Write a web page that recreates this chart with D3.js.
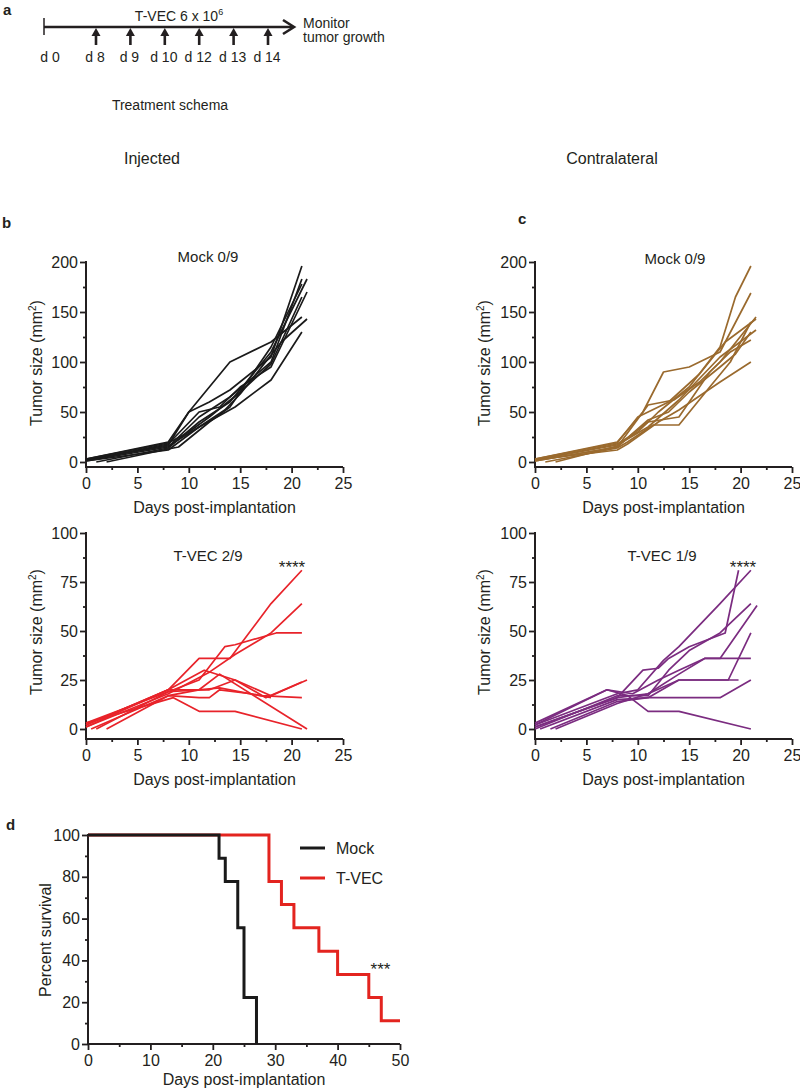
<!DOCTYPE html>
<html><head><meta charset="utf-8">
<script src="https://cdn.jsdelivr.net/npm/d3@7"></script>
<style>
body{margin:0;background:#fff}
svg{display:block}
text{font-family:"Liberation Sans",Arial,sans-serif;fill:#231f20}
</style>
</head><body><svg id="chart" width="800" height="1091"></svg>
<script>
// ---------------- DATA ----------------
const schemaDays = ["d 8","d 9","d 10","d 12","d 13","d 14"];
const growthXTicks = [0,5,10,15,20,25];
const growthXMinor = [2.5,7.5,12.5,17.5,22.5];
const mockYTicks = [0,50,100,150,200];
const mockYMinor = [25,75,125,175];
const tvecYTicks = [0,25,50,75,100];
const tvecYMinor = [12.5,37.5,62.5,87.5];
const survXTicks = [0,10,20,30,40,50];
const survXMinor = [5,15,25,35,45];
const survYTicks = [0,20,40,60,80,100];
const survYMinor = [10,30,50,70,90];

// tumour size per mouse: [day, mm2]
const mockInjected = [
  [[0,2],[8,17],[10,50],[12,60],[14,72],[18,105],[21,196]],
  [[0,3],[8,20],[10,50],[14,100],[18,120],[21,145]],
  [[0,1],[8,15],[11,45],[14,65],[18,100],[21,183]],
  [[1,0],[8,14],[11,40],[14,60],[18,110],[21.5,183]],
  [[0,2],[8,16],[11,35],[14.5,55],[18,82],[21,130]],
  [[0,2],[8,18],[11,50],[13,55],[15,75],[18,95],[21.5,170]],
  [[0,3],[8,19],[10,30],[12,45],[15,70],[18,98],[21,165]],
  [[2,0],[8,13],[9,15],[12,40],[14,55],[18,115],[21,178]],
  [[0,1],[8,12],[11,35],[13.5,52],[15,68],[19,120],[21.5,143]]
];
const mockContra = [
  [[0,2],[8,18],[10,30],[12,50],[15,75],[18,115],[19.5,165],[21,196]],
  [[0,3],[8,20],[10.5,50],[12.5,90],[15,95],[18,110],[21,169]],
  [[0,1],[8,15],[11,57],[13.5,62],[16,80],[18,100],[21.5,145]],
  [[1,0],[8,14],[9,20],[11.5,37],[14,37],[17,75],[19,100],[21,140]],
  [[0,2],[8,12],[9,18],[12,40],[14,52],[18,80],[21,100]],
  [[0,2],[8,17],[11,35],[14,62],[18,105],[21.5,132]],
  [[0,3],[8,19],[10,45],[13,60],[16,88],[18.5,120],[21.5,143]],
  [[2,0],[8,16],[11,40],[14,45],[17,90],[19,110],[21,122]],
  [[0,1],[8,15],[11,42],[13,50],[15,70],[18,95],[19.5,108],[21,130]]
];
const tvecInjected = [
  [[0,2],[8,20],[11,36],[14,36],[18,64],[21,81]],
  [[0,3],[8,19],[11,25],[13.5,42],[14.5,43],[18.5,49],[21,49]],
  [[0,1],[8,18],[12,29],[14.5,38],[18,49],[21,64]],
  [[0,1],[8,20],[11.5,30],[14.5,25],[18,17],[21.5,25]],
  [[0,2],[8,20],[12,20],[14.5,25],[17.5,16],[21,24]],
  [[0.5,0],[8,17],[11,20],[13,21],[17,17],[21,16]],
  [[0,3],[8.5,16],[11,9],[14.5,9],[21,0]],
  [[1,0],[8,19],[11,20],[13,28],[21.5,0]],
  [[2,0],[8,17],[11,16],[12,16],[13,20],[16,18],[18,16]]
];
const tvecContra = [
  [[0,2],[7,20],[9,17],[11,9],[14,9],[21,0]],
  [[0,2],[8,18],[10,20],[12.5,35],[14,42],[18,64],[21,81]],
  [[0,1],[8,16],[10.5,30],[12,31],[13,36],[15,42],[18.5,49],[19.8,81]],
  [[0,0],[8,17],[11,17],[13,30],[15,40],[18,49],[21,64]],
  [[0,3],[7,20],[9.5,18],[12,25],[14,30],[16.5,36],[21,36]],
  [[0,1],[8,16],[11,18],[14,25],[19.8,25]],
  [[0.5,0],[8,15],[11,16],[14,25],[18.8,25],[21,49]],
  [[1.5,0],[8,14],[11,16],[18,16],[21,25]],
  [[2,0],[8,13],[11,18],[14,28],[16.5,36],[18,36],[21.6,63]]
];

const survMockDays = [0,21,22,24,25,27];
const survMockPct  = [100,88.9,77.8,55.6,22.2,0];
const survTvecDays = [0,29,31,33,37,40,45,47,50];
const survTvecPct  = [100,77.8,66.7,55.6,44.4,33.3,22.2,11.1,11.1];

// ---------------- DRAW ----------------
const svg = d3.select("#chart");
const INK = "#231f20";
const FONT = 16;

function txt(g, x, y, s, opts={}) {
  const t = g.append("text").attr("x", x).attr("y", y).text(s)
    .attr("font-size", opts.size || FONT)
    .attr("text-anchor", opts.anchor || "start");
  if (opts.weight) t.attr("font-weight", opts.weight);
  return t;
}

// generic Prism-like axes
function axes(g, x, y, o) {
  const axW = 2;
  // y axis
  const ya = g.append("g").attr("transform", `translate(${x.range()[0]},0)`)
    .call(d3.axisLeft(y).tickValues(o.yTicks).tickSize(6).tickPadding(2).tickFormat(d3.format("d")));
  ya.select(".domain").remove();
  ya.selectAll("line").attr("stroke", INK).attr("stroke-width", 1.8);
  ya.selectAll("text").attr("font-size", FONT).style("fill", INK)
    .attr("font-family", "Liberation Sans, Arial, sans-serif");
  const ym = g.append("g").attr("transform", `translate(${x.range()[0]},0)`)
    .call(d3.axisLeft(y).tickValues(o.yMinor).tickSize(3).tickFormat(""));
  ym.select(".domain").remove();
  ym.selectAll("line").attr("stroke", INK).attr("stroke-width", 1.8);
  g.append("line").attr("x1", x.range()[0]).attr("x2", x.range()[0])
    .attr("y1", y(y.domain()[1]) - 1).attr("y2", o.axisY + 1)
    .attr("stroke", INK).attr("stroke-width", axW);
  // x axis
  const xa = g.append("g").attr("transform", `translate(0,${o.axisY})`)
    .call(d3.axisBottom(x).tickValues(o.xTicks).tickSize(6).tickPadding(o.xPad).tickFormat(d3.format("d")));
  xa.select(".domain").remove();
  xa.selectAll("line").attr("stroke", INK).attr("stroke-width", 1.8);
  xa.selectAll("text").attr("font-size", FONT).style("fill", INK)
    .attr("font-family", "Liberation Sans, Arial, sans-serif");
  const xm = g.append("g").attr("transform", `translate(0,${o.axisY})`)
    .call(d3.axisBottom(x).tickValues(o.xMinor).tickSize(3).tickFormat(""));
  xm.select(".domain").remove();
  xm.selectAll("line").attr("stroke", INK).attr("stroke-width", 1.8);
  g.append("line").attr("x1", x.range()[0] - 1).attr("x2", x.range()[1])
    .attr("y1", o.axisY).attr("y2", o.axisY)
    .attr("stroke", INK).attr("stroke-width", axW);
}

function tumorLabel(g, bx, cy) {
  const t = g.append("text").attr("transform", `translate(${bx},${cy}) rotate(-90)`)
    .attr("text-anchor", "middle").attr("font-size", FONT);
  t.append("tspan").text("Tumor size (mm");
  t.append("tspan").text("2").attr("font-size", 10).attr("dy", -6);
  t.append("tspan").text(")").attr("dy", 6);
}

function growthPanel(o) {
  const g = svg.append("g");
  const x = d3.scaleLinear().domain([0,25]).range([o.x0, o.x0 + 257]);
  const y = d3.scaleLinear().domain([0, o.yMax]).range([o.yZero, o.yTopPx]);
  axes(g, x, y, {yTicks:o.yTicks, yMinor:o.yMinor, xTicks:growthXTicks, xMinor:growthXMinor, axisY:o.axisY, xPad:5});
  const line = d3.line().x(d => x(d[0])).y(d => y(d[1]));
  g.append("g").selectAll("path").data(o.data).join("path")
    .attr("d", line).attr("fill", "none").attr("stroke", o.color)
    .attr("stroke-width", 1.7).attr("stroke-linejoin", "round");
  txt(g, o.titleX, o.titleY, o.title, {anchor:"middle", size:15});
  if (o.starsX) txt(g, o.starsX, o.titleY + 12, "****", {anchor:"middle", size:17});
  tumorLabel(g, o.labelX, (o.yZero + o.yTopPx) / 2 + 1);
  txt(g, (x.range()[0] + x.range()[1]) / 2, o.axisY + 46, "Days post-implantation", {anchor:"middle"});
}

// ---- a: schema ----
const ga = svg.append("g");
txt(ga, 3, 15, "a", {weight:"bold", size:15});
ga.append("line").attr("x1", 44).attr("x2", 293).attr("y1", 27).attr("y2", 27)
  .attr("stroke", INK).attr("stroke-width", 2.6);
ga.append("line").attr("x1", 44).attr("x2", 44).attr("y1", 18).attr("y2", 35)
  .attr("stroke", INK).attr("stroke-width", 1.5);
ga.append("path").attr("d", "M283,20 L294,27 L283,34").attr("fill", "none")
  .attr("stroke", INK).attr("stroke-width", 2.6);
const sx = d3.scalePoint().domain(schemaDays).range([96, 268]);
schemaDays.forEach(dl => {
  const cx = sx(dl);
  ga.append("line").attr("x1", cx).attr("x2", cx).attr("y1", 45).attr("y2", 34)
    .attr("stroke", INK).attr("stroke-width", 2.6);
  ga.append("path").attr("d", `M${cx-4.5},36 L${cx},28 L${cx+4.5},36 Z`).attr("fill", INK);
  txt(ga, cx - 1, 62, dl, {anchor:"middle", size:14});
});
txt(ga, 50, 62, "d 0", {anchor:"middle", size:14});
const tv = ga.append("text").attr("x", 179).attr("y", 21).attr("text-anchor", "middle").attr("font-size", 14);
tv.append("tspan").text("T-VEC 6 x 10");
tv.append("tspan").text("6").attr("font-size", 9).attr("dy", -6);
txt(ga, 303, 28, "Monitor", {size:14});
txt(ga, 303, 42, "tumor growth", {size:14});
txt(ga, 170, 110, "Treatment schema", {anchor:"middle", size:14});

// column headers
txt(svg, 152, 164, "Injected", {anchor:"middle"});
txt(svg, 612, 164, "Contralateral", {anchor:"middle"});
txt(svg, 2, 228, "b", {weight:"bold", size:15});
txt(svg, 518, 224, "c", {weight:"bold", size:15});

growthPanel({x0:86, yZero:462, yTopPx:262, yMax:200, axisY:467, yTicks:mockYTicks, yMinor:mockYMinor,
  data:mockInjected, color:"#1a1a1a", title:"Mock 0/9", titleX:208, titleY:262, labelX:42});
growthPanel({x0:535, yZero:462, yTopPx:262, yMax:200, axisY:467, yTicks:mockYTicks, yMinor:mockYMinor,
  data:mockContra, color:"#9a6a2e", title:"Mock 0/9", titleX:675, titleY:264, labelX:490});
growthPanel({x0:86, yZero:729, yTopPx:533, yMax:100, axisY:739, yTicks:tvecYTicks, yMinor:tvecYMinor,
  data:tvecInjected, color:"#e8232a", title:"T-VEC 2/9", titleX:208, titleY:561, starsX:292, labelX:42});
growthPanel({x0:535, yZero:729, yTopPx:533, yMax:100, axisY:739, yTicks:tvecYTicks, yMinor:tvecYMinor,
  data:tvecContra, color:"#7b2c80", title:"T-VEC 1/9", titleX:662, titleY:561, starsX:743, labelX:490});

// ---- d: survival ----
const gd = svg.append("g");
txt(gd, 6, 830, "d", {weight:"bold", size:15});
const dx = d3.scaleLinear().domain([0,50]).range([88,400]);
const dy = d3.scaleLinear().domain([0,100]).range([1044,835]);
axes(gd, dx, dy, {yTicks:survYTicks, yMinor:survYMinor, xTicks:survXTicks, xMinor:survXMinor, axisY:1044, xPad:5});
const stepLine = d3.line().curve(d3.curveStepAfter).x(d => dx(d[0])).y(d => dy(d[1]));
const tvecPts = survTvecDays.map((d,i) => [d, survTvecPct[i]]);
const mockPts = survMockDays.map((d,i) => [d, survMockPct[i]]);
gd.append("path").attr("d", stepLine(tvecPts)).attr("fill","none").attr("stroke","#e3241f").attr("stroke-width",3);
gd.append("path").attr("d", stepLine(mockPts)).attr("fill","none").attr("stroke","#1a1a1a").attr("stroke-width",3);
// legend
const legend = [["Mock","#1a1a1a",848],["T-VEC","#e3241f",878]];
legend.forEach(([name,col,ly]) => {
  gd.append("line").attr("x1",300).attr("x2",325).attr("y1",ly).attr("y2",ly).attr("stroke",col).attr("stroke-width",3);
  txt(gd, 336, ly + 6, name, {size:16});
});
txt(gd, 380.5, 975, "***", {anchor:"middle", size:17});
gd.append("text").attr("transform", "translate(51,940) rotate(-90)").attr("text-anchor","middle")
  .attr("font-size", FONT).text("Percent survival");
txt(gd, 244, 1085, "Days post-implantation", {anchor:"middle"});
</script>
</body></html>
